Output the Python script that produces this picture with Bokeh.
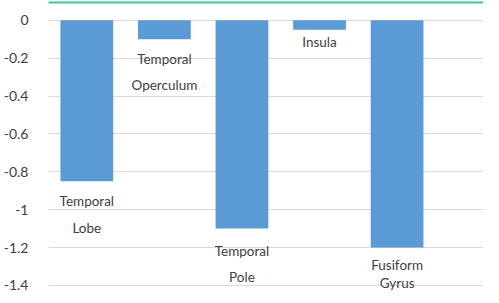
from bokeh.plotting import figure
from bokeh.models import Range1d, FixedTicker, BoxAnnotation, ColumnDataSource
from bokeh.core.properties import value
from bokeh.embed import file_html
from bokeh.resources import INLINE

# ---- data ----
regions = ["Temporal Lobe", "Temporal Operculum", "Temporal Pole", "Insula", "Fusiform Gyrus"]
label_line1 = ["Temporal", "Temporal", "Temporal", "Insula", "Fusiform"]
label_line2 = ["Lobe", "Operculum", "Pole", "", "Gyrus"]
values = [-0.85, -0.10, -1.10, -0.05, -1.20]
tick_vals = [0, -0.2, -0.4, -0.6, -0.8, -1, -1.2, -1.4]
tick_labels = ["0", "-0.2", "-0.4", "-0.6", "-0.8", "-1", "-1.2", "-1.4"]

# ---- styling ----
BAR = "#5b9bd5"
TXT = "#404040"
FONT = "Lato"

xs = list(range(len(regions)))
# label offsets (pixels below bar end); compressed near the bottom of the plot
off1 = [20, 20, 22, 12, 17]
off2 = [47, 46, 48, 0, 35]

p = figure(width=483, height=295, output_backend="svg", toolbar_location=None,
           x_range=Range1d(-0.494, 5.114), y_range=Range1d(-1.4374, 0.1042),
           x_axis_location=None, min_border_left=40, min_border_right=0,
           min_border_top=0, min_border_bottom=3)
p.outline_line_color = None
p.background_fill_color = "white"
p.border_fill_color = "white"
p.xgrid.grid_line_color = None
p.ygrid.grid_line_color = "#d9d9d9"
p.ygrid.grid_line_width = 1

ax = p.yaxis[0]
ax.ticker = FixedTicker(ticks=tick_vals)
ax.major_label_overrides = {v: s for v, s in zip(tick_vals, tick_labels)}
ax.axis_line_color = None
ax.major_tick_line_color = None
ax.minor_tick_line_color = None
ax.major_label_standoff = 14
ax.major_label_text_font = FONT
ax.major_label_text_font_size = "14px"
ax.major_label_text_color = TXT

src = ColumnDataSource(dict(x=xs, top=[0] * len(xs), bottom=values,
                            l1=label_line1, l2=label_line2))
p.vbar(x="x", width=0.68, top="top", bottom="bottom", source=src,
       fill_color=BAR, line_color=None)

for i in xs:
    p.text(x=[xs[i]], y=[values[i]], text=[label_line1[i]], y_offset=off1[i],
           text_align="center", text_baseline="middle",
           text_font=value(FONT), text_font_size="13.5px", text_color=TXT)
    if label_line2[i]:
        p.text(x=[xs[i]], y=[values[i]], text=[label_line2[i]], y_offset=off2[i],
               text_align="center", text_baseline="middle",
               text_font=value(FONT), text_font_size="13.5px", text_color=TXT)

# teal rule along the top edge
p.add_layout(BoxAnnotation(left=0, right=483, top=1, bottom=3,
                           left_units="canvas", right_units="canvas",
                           top_units="canvas", bottom_units="canvas",
                           fill_color="#3cc4a8", fill_alpha=1.0, line_color=None))

open("out.html", "w").write(file_html(p, INLINE))
